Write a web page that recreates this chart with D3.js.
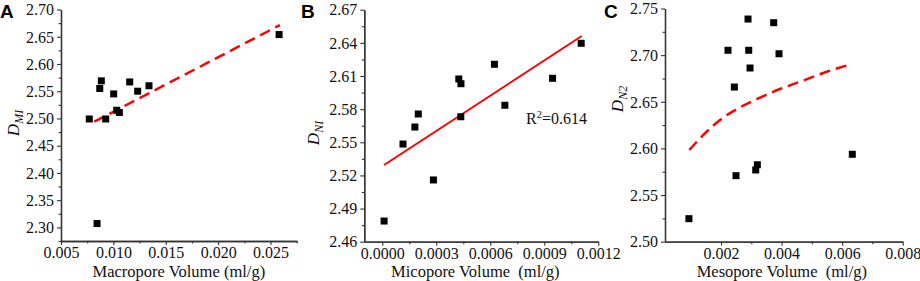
<!DOCTYPE html>
<html>
<head>
<meta charset="utf-8">
<script src="https://cdn.jsdelivr.net/npm/d3@7"></script>
<style>
  html, body { margin: 0; padding: 0; background: #fff; }
  svg { display: block; }
</style>
</head>
<body>
<svg id="chart" width="920" height="281"></svg>
<script>
// ---------- DATA ----------
// Panel A: Macropore volume vs D_M1
const macroX = [0.0077, 0.00885, 0.0087, 0.00927, 0.01003, 0.01032, 0.01057, 0.01156, 0.01232, 0.0134, 0.02582, 0.00844];
const macroY = [2.499, 2.569, 2.555, 2.499, 2.545, 2.515, 2.511, 2.567, 2.550, 2.560, 2.654, 2.307];
const fitAX = [0.00818, 0.0259];
const fitAY = [2.494, 2.6715];
const ticksAX = [0.005, 0.010, 0.015, 0.020, 0.025];
const ticksAY = [2.30, 2.35, 2.40, 2.45, 2.50, 2.55, 2.60, 2.65, 2.70];

// Panel B: Micropore volume vs D_N1
const microX = [0.00001, 0.000115, 0.000181, 0.0002, 0.000284, 0.000425, 0.000437, 0.000436, 0.000623, 0.000681, 0.000946, 0.001105];
const microY = [2.4787, 2.5484, 2.5638, 2.5756, 2.5159, 2.6073, 2.603, 2.5731, 2.6206, 2.5835, 2.6079, 2.6396];
const fitBX = [0.00001, 0.001108];
const fitBY = [2.5294, 2.6462];
const ticksBX = [0.0000, 0.0003, 0.0006, 0.0009, 0.0012];
const ticksBY = [2.46, 2.49, 2.52, 2.55, 2.58, 2.61, 2.64, 2.67];
const r2Label = "0.614";

// Panel C: Mesopore volume vs D_N2
const mesoX = [0.002892, 0.00374, 0.00223, 0.002915, 0.003915, 0.002958, 0.00244, 0.006336, 0.0032, 0.003146, 0.002495, 0.00094];
const mesoY = [2.7387, 2.7348, 2.7052, 2.7052, 2.7015, 2.6862, 2.6658, 2.5937, 2.5825, 2.5769, 2.5708, 2.5247];
const fitCX = [0.000953, 0.001416, 0.001967, 0.002571, 0.003288, 0.003948, 0.004609, 0.00549, 0.006316];
const fitCY = [2.5983, 2.6144, 2.6305, 2.6430, 2.6544, 2.6637, 2.6715, 2.6822, 2.6905];
const ticksCX = [0.002, 0.004, 0.006, 0.008];
const ticksCY = [2.50, 2.55, 2.60, 2.65, 2.70, 2.75];

// ---------- DRAW ----------
const svg = d3.select("#chart");
const serif = "'Liberation Serif', 'Times New Roman', serif";
const sans = "'Liberation Sans', Arial, sans-serif";
const axisColor = "#333";
const fs = 16;

function midpoints(ticks) {
  const m = [];
  for (let i = 0; i < ticks.length - 1; i++) m.push((ticks[i] + ticks[i + 1]) / 2);
  return m;
}

function panel(cfg) {
  const g = svg.append("g");
  const x = d3.scaleLinear().domain(cfg.xDomain).range(cfg.xRange);
  const y = d3.scaleLinear().domain(cfg.yDomain).range(cfg.yRange);
  const x0 = cfg.xRange[0], yb = cfg.yRange[0];

  const xMinor = midpoints(cfg.xTicks).concat(cfg.xMinorExtra || []);
  const yMinor = midpoints(cfg.yTicks).concat(cfg.yMinorExtra || []);

  const xAxis = d3.axisBottom(x).tickValues(cfg.xTicks).tickFormat(cfg.xFmt).tickSize(4).tickSizeOuter(0);
  const xAxisMinor = d3.axisBottom(x).tickValues(xMinor).tickFormat("").tickSize(2.5).tickSizeOuter(0);
  const yAxis = d3.axisLeft(y).tickValues(cfg.yTicks).tickFormat(cfg.yFmt).tickSize(4).tickSizeOuter(0);
  const yAxisMinor = d3.axisLeft(y).tickValues(yMinor).tickFormat("").tickSize(2.5).tickSizeOuter(0);

  const gxm = g.append("g").attr("transform", `translate(0,${yb})`).call(xAxisMinor);
  const gx = g.append("g").attr("transform", `translate(0,${yb})`).call(xAxis);
  const gym = g.append("g").attr("transform", `translate(${x0},0)`).call(yAxisMinor);
  const gy = g.append("g").attr("transform", `translate(${x0},0)`).call(yAxis);

  [gx, gxm, gy, gym].forEach(a => {
    a.selectAll("path.domain").attr("stroke", axisColor).attr("stroke-width", 1.3);
    a.selectAll(".tick line").attr("stroke", axisColor).attr("stroke-width", 1.1);
  });
  gx.selectAll(".tick text").attr("font-family", serif).attr("font-size", fs).attr("fill", "#111").attr("y", 6).attr("dy", "0.71em");
  gy.selectAll(".tick text").attr("font-family", serif).attr("font-size", fs).attr("fill", "#111").attr("x", -7).attr("dy", "0.33em");

  g.append("text")
    .attr("x", (cfg.xRange[0] + cfg.xRange[1]) / 2 + (cfg.titleDx || 0))
    .attr("y", 277)
    .attr("text-anchor", "middle")
    .attr("font-family", serif).attr("font-size", 16.5).attr("fill", "#111")
    .attr("xml:space", "preserve")
    .text(cfg.xTitle);

  const yt = g.append("text")
    .attr("transform", `translate(${cfg.yTitleX},${cfg.yTitleY}) rotate(-90)`)
    .attr("text-anchor", "middle")
    .attr("font-family", serif).attr("font-style", "italic").attr("fill", "#111");
  yt.append("tspan").attr("font-size", 17).text("D");
  yt.append("tspan").attr("font-size", 12).attr("dy", 4).text(cfg.ySub);

  g.append("text")
    .attr("x", cfg.letterX).attr("y", 18)
    .attr("font-family", sans).attr("font-weight", "bold").attr("font-size", 19).attr("fill", "#000")
    .text(cfg.letter);

  const line = d3.line().x(d => x(d[0])).y(d => y(d[1]));
  if (cfg.fitCurve) line.curve(d3.curveMonotoneX);
  g.append("path")
    .datum(d3.zip(cfg.fitX, cfg.fitY))
    .attr("d", line)
    .attr("fill", "none")
    .attr("stroke", "#ff0000")
    .attr("stroke-width", cfg.fitDash ? 2.5 : 2)
    .attr("stroke-dasharray", cfg.fitDash ? "11,6" : null);

  const s = 7;
  g.append("g").selectAll("rect")
    .data(d3.zip(cfg.px, cfg.py))
    .join("rect")
    .attr("x", d => x(d[0]) - s / 2)
    .attr("y", d => y(d[1]) - s / 2)
    .attr("width", s).attr("height", s)
    .attr("fill", "#000");

  return { g, x, y };
}

panel({
  xDomain: [0.005, 0.0275], xRange: [61, 296.7],
  yDomain: [2.275, 2.70], yRange: [241, 9.5],
  xTicks: ticksAX, yTicks: ticksAY,
  xMinorExtra: [0.0275], yMinorExtra: [2.275],
  xFmt: d3.format(".3f"), yFmt: d3.format(".2f"),
  xTitle: "Macropore Volume (ml/g)",
  yTitleX: 19, yTitleY: 123, ySub: "MI",
  letter: "A", letterX: 0,
  px: macroX, py: macroY,
  fitX: fitAX, fitY: fitAY, fitDash: true
});

const pB = panel({
  xDomain: [-0.0001, 0.0012], xRange: [364.3, 598.3],
  yDomain: [2.46, 2.67], yRange: [241.7, 9.7],
  xTicks: ticksBX, yTicks: ticksBY,
  xFmt: d3.format(".4f"), yFmt: d3.format(".2f"),
  xTitle: "Micopore Volume  (ml/g)", titleDx: -6,
  yTitleX: 319, yTitleY: 133, ySub: "NI",
  letter: "B", letterX: 301,
  px: microX, py: microY,
  fitX: fitBX, fitY: fitBY, fitDash: false
});

const r2 = pB.g.append("text")
  .attr("x", 526).attr("y", 124)
  .attr("font-family", serif).attr("font-size", fs).attr("fill", "#111");
r2.append("tspan").text("R");
r2.append("tspan").attr("font-size", 10.5).attr("dy", -6).text("2");
r2.append("tspan").attr("dy", 6).text("=" + r2Label);

panel({
  xDomain: [0.00015, 0.008], xRange: [665, 902.7],
  yDomain: [2.50, 2.75], yRange: [241.7, 8.5],
  xTicks: ticksCX, yTicks: ticksCY,
  xMinorExtra: [],
  xFmt: d3.format(".3f"), yFmt: d3.format(".2f"),
  xTitle: "Mesopore Volume  (ml/g)", titleDx: -2,
  yTitleX: 623, yTitleY: 99, ySub: "N2",
  letter: "C", letterX: 604,
  px: mesoX, py: mesoY,
  fitX: fitCX, fitY: fitCY, fitDash: true, fitCurve: true
});
</script>
</body>
</html>
